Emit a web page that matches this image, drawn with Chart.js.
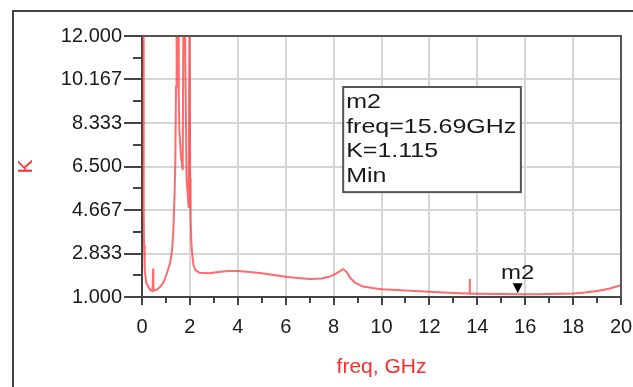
<!DOCTYPE html>
<html><head><meta charset="utf-8">
<script src="https://cdn.jsdelivr.net/npm/chart.js@4.4.0/dist/chart.umd.min.js"></script>
<style>
html,body{margin:0;padding:0;background:#fff;overflow:hidden;}
#wrap{position:relative;width:633px;height:387px;overflow:hidden;}
#frame{position:absolute;left:12px;top:10px;width:700px;height:450px;border-top:2px solid #444;border-left:2px solid #444;pointer-events:none;}
canvas{position:absolute;left:0;top:0;}
</style></head><body>
<div id="wrap"><canvas id="c" width="633" height="387" style="width:633px;height:387px"></canvas><div id="frame"></div></div>
<script>
// ---- data ----
const freq = [0.06,0.068,0.075,0.085,0.1,0.125,0.18,0.26,0.35,0.44,0.455,0.465,0.475,0.55,0.65,0.75,0.89,1.04,1.17,1.25,1.31,1.365,1.39,1.42,1.445,
  1.51,1.535,1.56,1.63,1.70,1.735,1.78,1.86,1.95,1.985,1.995,2.01,2.03,2.06,2.09,2.15,2.22,2.4,2.8,3.2,3.6,4.0,4.5,5.0,5.5,6.0,6.5,7.0,7.5,7.8,8.0,8.2,8.4,8.55,8.7,8.9,9.2,9.6,10,11,12,13,13.6,13.665,13.68,13.695,14,15,15.69,16.5,17.5,18,18.5,19,19.5,20];
const kVals = [14,7,4.5,3.2,2.6,2.14,1.6,1.43,1.3,1.25,1.25,2.2,1.27,1.28,1.33,1.42,1.6,2.0,2.42,2.9,3.82,5.5,6.65,9.85,14,
  14,9.5,8.0,6.9,6.35,14,14,6.0,4.75,14,14,6.0,4.3,3.3,2.85,2.35,2.14,2.02,2.0,2.05,2.1,2.1,2.05,2.0,1.93,1.85,1.8,1.76,1.78,1.85,1.93,2.05,2.17,2.05,1.8,1.6,1.45,1.38,1.33,1.27,1.22,1.17,1.15,1.15,1.76,1.14,1.14,1.13,1.115,1.12,1.14,1.15,1.19,1.25,1.35,1.5];
const xTickLabels = ['0','2','4','6','8','10','12','14','16','18','20'];
const yTickValues = [1, 2.833, 4.667, 6.5, 8.333, 10.167, 12];
const yTickLabels = ['1.000','2.833','4.667','6.500','8.333','10.167','12.000'];
const markerName = 'm2';
const markerFreq = 15.69;
const markerK = 1.115;
const markerLines = ['m2','freq=15.69GHz','K=1.115','Min'];

const FONT = '"Liberation Sans", Arial, sans-serif';

function sText(ctx, t, x, y, sx){ ctx.save(); ctx.translate(x,y); ctx.scale(sx,1); ctx.fillText(t,0,0); ctx.restore(); }

const decor = {
  id:'decor',
  afterDraw(chart){
    const {ctx, chartArea:a, scales:{x,y}} = chart;
    ctx.save();
    ctx.lineWidth = 2;
    ctx.strokeStyle = '#555';
    ctx.beginPath(); ctx.moveTo(a.left, a.top); ctx.lineTo(a.right, a.top); ctx.lineTo(a.right, a.bottom); ctx.stroke();
    ctx.strokeStyle = '#444';
    ctx.beginPath();
    for (let i=0;i<yTickValues.length-1;i++){
      const py = Math.round(y.getPixelForValue((yTickValues[i]+yTickValues[i+1])/2));
      ctx.moveTo(a.left-9, py); ctx.lineTo(a.left, py);
    }
    for (let v=1; v<20; v+=2){
      const px = Math.round(x.getPixelForValue(v));
      ctx.moveTo(px, a.bottom); ctx.lineTo(px, a.bottom+6);
    }
    ctx.stroke();
    // marker triangle
    const mx = x.getPixelForValue(markerFreq);
    const my = y.getPixelForValue(markerK) - 1;
    ctx.fillStyle = '#000';
    ctx.beginPath(); ctx.moveTo(mx, my); ctx.lineTo(mx-5, my-10); ctx.lineTo(mx+5, my-10); ctx.closePath(); ctx.fill();
    ctx.font = '20px ' + FONT; ctx.fillStyle = '#1a1a1a'; ctx.textBaseline = 'alphabetic';
    const w = ctx.measureText(markerName).width * 1.2;
    sText(ctx, markerName, mx - w/2, my - 14, 1.2);
    // annotation box
    const bx0 = x.getPixelForValue(8.4), bx1 = x.getPixelForValue(15.82);
    const by0 = y.getPixelForValue(9.85), by1 = y.getPixelForValue(5.42);
    ctx.fillStyle = '#fff';
    ctx.fillRect(bx0, by0, bx1-bx0, by1-by0);
    ctx.strokeStyle = '#555'; ctx.lineWidth = 2;
    ctx.strokeRect(bx0, by0, bx1-bx0, by1-by0);
    ctx.fillStyle = '#1a1a1a'; ctx.font = '21px ' + FONT;
    markerLines.forEach((t,i)=> sText(ctx, t, bx0+3, by0 + 21 + i*24.7, 1.19));
    ctx.restore();
  }
};

new Chart(document.getElementById('c'), {
  type:'line',
  data:{ datasets:[{
    data: freq.map((f,i)=>({x:f, y:kVals[i]})),
    borderColor:'rgba(255,50,50,0.72)', borderWidth:2, pointRadius:0, tension:0, clip:0
  }]},
  options:{
    responsive:false, animation:false, devicePixelRatio:1,
    layout:{padding:{top:36, right:12, left:0, bottom:0}},
    plugins:{legend:{display:false}, tooltip:{enabled:false}},
    scales:{
      x:{ type:'linear', min:0, max:20,
        afterFit(s){ s.height = 90; s.paddingLeft = 0; s.paddingRight = 0; },
        ticks:{ stepSize:2, autoSkip:false, maxRotation:0, padding:10, color:'#1a1a1a', font:{family:FONT, size:20},
          callback:(v,i)=> xTickLabels[i] },
        grid:{ color:'#d6d6d6', lineWidth:2, tickColor:'#444', tickWidth:2, tickLength:8 },
        border:{ color:'#444', width:2 },
        title:{ display:true, text:'freq, GHz', color:'#ff2a2a', font:{family:FONT, size:21}, padding:{top:0,bottom:7.4} }
      },
      y:{ type:'linear', min:1, max:12,
        afterFit(s){ s.width = 142; s.paddingTop = 0; s.paddingBottom = 0; },
        afterBuildTicks(s){ s.ticks = yTickValues.map(v=>({value:v})); },
        ticks:{ autoSkip:false, padding:2, color:'#1a1a1a', font:{family:FONT, size:20},
          callback:(v,i)=> yTickLabels[i] },
        grid:{ color:'#d6d6d6', lineWidth:2, tickColor:'#444', tickWidth:2, tickLength:18 },
        border:{ color:'#444', width:2 },
        title:{ display:true, text:'K', color:'#ff2a2a', font:{family:FONT, size:21}, padding:{top:13.4,bottom:0} }
      }
    }
  },
  plugins:[decor]
});
</script>
</body></html>
